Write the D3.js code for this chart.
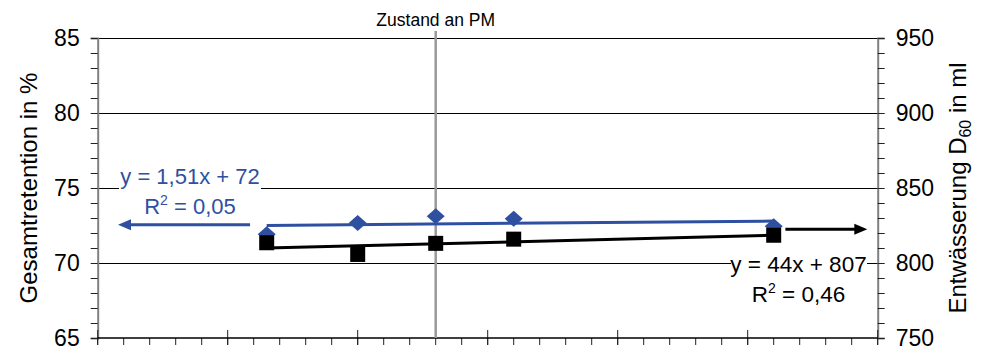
<!DOCTYPE html>
<html>
<head>
<meta charset="utf-8">
<script src="https://cdn.jsdelivr.net/npm/d3@7"></script>
<style>
  html, body { margin: 0; padding: 0; background: #fff; }
  svg { display: block; font-family: "Liberation Sans", Arial, sans-serif; }
</style>
</head>
<body>
<svg id="chart" width="981" height="347"></svg>
<script>
// Trial settings (x) with retention (left axis) and dewatering (right axis)
const xValues = [0.065, 0.10, 0.13, 0.16, 0.26];
const retention = [71.91, 72.67, 73.12, 72.95, 72.45];      // Gesamtretention in %
const dewatering = [813.5, 805.7, 813.1, 815.9, 818.5];     // Entwässerung D60 in ml
const leftTicks = [65, 70, 75, 80, 85];
const rightTicks = [750, 800, 850, 900, 950];
const gridValues = [70, 75, 80, 85];
const pmState = 0.13;                                        // Zustand an PM
const retentionFitText = ["y = 1,51x + 72", "0,05"];
const dewateringFitText = ["y = 44x + 807", "0,46"];

const BLUE = "#2f50a0";
const svg = d3.select("#chart");
const plot = { left: 97.7, right: 877.7, top: 38, bottom: 338 };

const x = d3.scaleLinear().domain([0, 0.3]).range([plot.left, plot.right]);
const yL = d3.scaleLinear().domain([65, 85]).range([plot.bottom, plot.top]);
const yR = d3.scaleLinear().domain([750, 950]).range([plot.bottom, plot.top]);

// Least-squares line through the points
function fit(xs, ys) {
  const mx = d3.mean(xs), my = d3.mean(ys);
  const sxy = d3.sum(xs, (v, i) => (v - mx) * (ys[i] - my));
  const sxx = d3.sum(xs, v => (v - mx) * (v - mx));
  const slope = sxy / sxx;
  return { slope, intercept: my - slope * mx };
}

// Horizontal gridlines
svg.append("g").selectAll("line").data(gridValues).join("line")
  .attr("x1", plot.left).attr("x2", plot.right)
  .attr("y1", d => yL(d)).attr("y2", d => yL(d))
  .attr("stroke", "#000").attr("stroke-width", 1).attr("shape-rendering", "crispEdges");

// Left axis: major + minor ticks outside
const leftAxis = svg.append("g").attr("transform", `translate(${plot.left},0)`);
leftAxis.call(d3.axisLeft(yL).tickValues(d3.range(65, 85.1, 1)).tickSize(7).tickFormat(""))
  .call(g => g.selectAll(".tick line").attr("stroke", "#222"))
  .call(g => g.select(".domain").attr("stroke", "#808080").attr("stroke-width", 2));
leftAxis.selectAll("text.lbl").data(leftTicks).join("text").attr("class", "lbl")
  .attr("x", -18).attr("y", d => yL(d)).attr("dy", "0.36em")
  .attr("text-anchor", "end").attr("font-size", 23).attr("fill", "#000").text(d => d);

// Right axis
const rightAxis = svg.append("g").attr("transform", `translate(${plot.right},0)`);
rightAxis.call(d3.axisRight(yR).tickValues(d3.range(750, 950.1, 10)).tickSize(7).tickFormat(""))
  .call(g => g.selectAll(".tick line").attr("stroke", "#222"))
  .call(g => g.select(".domain").attr("stroke", "#808080").attr("stroke-width", 2));
rightAxis.selectAll("text.lbl").data(rightTicks).join("text").attr("class", "lbl")
  .attr("x", 18).attr("y", d => yR(d)).attr("dy", "0.36em")
  .attr("text-anchor", "start").attr("font-size", 23).attr("fill", "#000").text(d => d);

// Bottom axis: minor ticks below, major ticks crossing the line
const xMinor = d3.range(0, 0.3001, 0.01);
const xMajor = d3.range(0, 0.3001, 0.05);
const bottom = svg.append("g");
bottom.selectAll("line.minor").data(xMinor).join("line").attr("class", "minor")
  .attr("x1", d => x(d)).attr("x2", d => x(d))
  .attr("y1", plot.bottom).attr("y2", plot.bottom + 7).attr("stroke", "#222");
bottom.selectAll("line.major").data(xMajor).join("line").attr("class", "major")
  .attr("x1", d => x(d)).attr("x2", d => x(d))
  .attr("y1", plot.bottom - 8).attr("y2", plot.bottom + 7).attr("stroke", "#222");
bottom.append("line")
  .attr("x1", plot.left).attr("x2", plot.right)
  .attr("y1", plot.bottom).attr("y2", plot.bottom)
  .attr("stroke", "#000").attr("stroke-width", 1.5);

// Paper machine reference line
svg.append("line")
  .attr("x1", x(pmState)).attr("x2", x(pmState))
  .attr("y1", 31).attr("y2", plot.bottom)
  .attr("stroke", "#999").attr("stroke-width", 2.5);
svg.append("text").attr("x", x(pmState)).attr("y", 26)
  .attr("text-anchor", "middle").attr("font-size", 17.5).text("Zustand an PM");

// Trend lines
const xr = d3.extent(xValues);
const fB = fit(xValues, retention);
const fK = fit(xValues, dewatering);
svg.append("line")
  .attr("x1", x(xr[0])).attr("x2", x(xr[1]))
  .attr("y1", yL(fB.intercept + fB.slope * xr[0])).attr("y2", yL(fB.intercept + fB.slope * xr[1]))
  .attr("stroke", BLUE).attr("stroke-width", 3);
svg.append("line")
  .attr("x1", x(xr[0])).attr("x2", x(xr[1]))
  .attr("y1", yR(fK.intercept + fK.slope * xr[0])).attr("y2", yR(fK.intercept + fK.slope * xr[1]))
  .attr("stroke", "#000").attr("stroke-width", 3);

// Markers
svg.append("g").selectAll("path").data(xValues).join("path")
  .attr("transform", (d, i) => `translate(${x(d)},${yL(retention[i])})`)
  .attr("d", "M0,-8L9,0L0,8L-9,0Z").attr("fill", BLUE);
svg.append("g").selectAll("rect").data(xValues).join("rect")
  .attr("x", d => x(d) - 7.5).attr("y", (d, i) => yR(dewatering[i]) - 7.5)
  .attr("width", 15).attr("height", 15).attr("fill", "#000");

// Arrows pointing to the respective axis
function arrow(x1, x2, y, color) {
  const dir = Math.sign(x2 - x1);
  svg.append("line").attr("x1", x1).attr("x2", x2 - dir * 10).attr("y1", y).attr("y2", y)
    .attr("stroke", color).attr("stroke-width", 3);
  svg.append("path")
    .attr("d", `M${x2},${y}L${x2 - dir * 13},${y - 5.5}L${x2 - dir * 13},${y + 5.5}Z`)
    .attr("fill", color);
}
arrow(x(0.0586), x(0.0078), yL(72.55), BLUE);
arrow(x(0.2645), x(0.296), yR(822.5), "#000");

// Regression labels
function eqLabel(cx, y1, lines, color, bg, size) {
  const g = svg.append("g");
  g.append("rect").attr("x", bg[0]).attr("y", bg[1]).attr("width", bg[2]).attr("height", bg[3]).attr("fill", "#fff");
  g.append("text").attr("x", cx).attr("y", y1).attr("text-anchor", "middle")
    .attr("font-size", size).attr("fill", color).text(lines[0]);
  const t = g.append("text").attr("x", cx).attr("y", y1 + 30).attr("text-anchor", "middle")
    .attr("font-size", size).attr("fill", color);
  t.append("tspan").text("R");
  t.append("tspan").attr("font-size", 14).attr("dy", -9).text("2");
  t.append("tspan").attr("dy", 9).text(" = " + lines[1]);
}
eqLabel(190, 183.5, retentionFitText, BLUE, [119, 180, 142, 16], 22);
eqLabel(798.5, 272, dewateringFitText, "#000", [731, 255, 136, 16], 22.5);

// Axis titles
svg.append("text").attr("transform", "translate(37,188) rotate(-90)")
  .attr("text-anchor", "middle").attr("font-size", 24).text("Gesamtretention in %");
const rt = svg.append("text").attr("transform", "translate(966,188) rotate(-90)")
  .attr("text-anchor", "middle").attr("font-size", 24);
rt.append("tspan").text("Entwässerung D");
rt.append("tspan").attr("font-size", 16).attr("dy", 5).text("60");
rt.append("tspan").attr("dy", -5).text(" in ml");
</script>
</body>
</html>
